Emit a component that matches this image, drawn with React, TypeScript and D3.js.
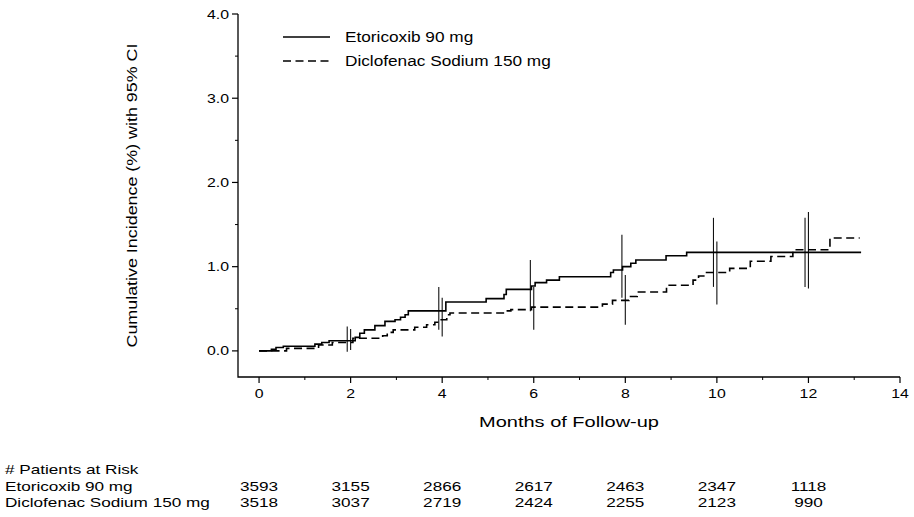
import React from "react";
import * as d3 from "d3";

// ---------- data ----------
const etoTimes = [0, 0.27, 0.37, 0.53, 1.22, 1.37, 1.53, 2.1, 2.2, 2.3, 2.53, 2.75, 2.97, 3.09, 3.19, 3.26, 4.08, 4.96, 5.35, 5.4, 5.95, 6.03, 6.28, 6.56, 7.68, 7.74, 7.94, 8.12, 8.23, 8.89, 9.34, 13.15];
const etoValues = [0, 0.02, 0.04, 0.055, 0.08, 0.1, 0.12, 0.16, 0.21, 0.25, 0.3, 0.35, 0.37, 0.4, 0.43, 0.475, 0.58, 0.62, 0.67, 0.73, 0.77, 0.81, 0.84, 0.88, 0.93, 0.96, 1.0, 1.04, 1.08, 1.13, 1.17, 1.17];

const dicTimes = [0, 0.6, 1.3, 1.6, 2.05, 2.7, 2.8, 2.93, 3.4, 3.66, 3.84, 3.95, 4.1, 4.17, 5.4, 5.5, 5.95, 7.5, 7.72, 8.08, 8.26, 8.9, 9.48, 9.6, 9.75, 10.28, 10.73, 11.18, 11.66, 12.47, 13.12];
const dicValues = [0, 0.03, 0.07, 0.1, 0.15, 0.18, 0.22, 0.25, 0.28, 0.31, 0.34, 0.37, 0.43, 0.45, 0.475, 0.49, 0.52, 0.555, 0.6, 0.645, 0.7, 0.78, 0.84, 0.89, 0.93, 0.98, 1.065, 1.12, 1.2, 1.34, 1.34];

const ciMonths = [2, 4, 6, 8, 10, 12];
const etoLower = [-0.01, 0.25, 0.47, 0.63, 0.76, 0.76];
const etoUpper = [0.29, 0.76, 1.08, 1.38, 1.58, 1.58];
const dicLower = [0.01, 0.17, 0.25, 0.31, 0.55, 0.74];
const dicUpper = [0.26, 0.63, 0.76, 0.9, 1.3, 1.65];

const xTicks = [0, 2, 4, 6, 8, 10, 12, 14];
const xMinorTicks = [1, 3, 5, 7, 9, 11, 13];
const yTicks = [0, 1, 2, 3, 4];
const yMinorTicks = [0.5, 1.5, 2.5, 3.5];

const seriesNames = ["Etoricoxib 90 mg", "Diclofenac Sodium 150 mg"];
const riskMonths = [0, 2, 4, 6, 8, 10, 12];
const etoRisk = [3593, 3155, 2866, 2617, 2463, 2347, 1118];
const dicRisk = [3518, 3037, 2719, 2424, 2255, 2123, 990];

// ---------- layout ----------
const W = 914, H = 517;
const FONT = "'Liberation Sans', Arial, Helvetica, sans-serif";

const x = d3.scaleLinear().domain([-0.46, 14]).range([238, 900]);
const y = d3.scaleLinear().domain([-0.31, 4]).range([377, 14]);

const stepLine = d3
  .line<[number, number]>()
  .x((d) => x(d[0]))
  .y((d) => y(d[1]))
  .curve(d3.curveStepAfter);

function T(props: {
  x: number; y: number; size: number; sx?: number; anchor?: string; children: React.ReactNode;
}) {
  const sx = props.sx ?? 1.25;
  return (
    <text
      transform={`translate(${props.x},${props.y}) scale(${sx},1)`}
      fontSize={props.size}
      fontFamily={FONT}
      textAnchor={props.anchor ?? "start"}
      fill="#000"
    >
      {props.children}
    </text>
  );
}

export default function App() {
  const etoPts = etoTimes.map((t, i) => [t, etoValues[i]] as [number, number]);
  const dicPts = dicTimes.map((t, i) => [t, dicValues[i]] as [number, number]);
  const axisY = y.range()[0];
  const axisX = x.range()[0];

  return (
    <svg width={W} height={H} style={{ position: "absolute", left: 0, top: 0, background: "#fff" }}>
      {/* axes */}
      <path d={`M${axisX},${y(4)}V${axisY}H${x(14)}`} fill="none" stroke="#000" strokeWidth={1.3} />
      {xTicks.map((t) => (
        <line key={"xt" + t} x1={x(t)} x2={x(t)} y1={axisY} y2={axisY + 6} stroke="#000" strokeWidth={1.2} />
      ))}
      {xMinorTicks.map((t) => (
        <line key={"xm" + t} x1={x(t)} x2={x(t)} y1={axisY} y2={axisY + 3} stroke="#000" strokeWidth={1} />
      ))}
      {yTicks.map((t) => (
        <line key={"yt" + t} x1={axisX - 6} x2={axisX} y1={y(t)} y2={y(t)} stroke="#000" strokeWidth={1.2} />
      ))}
      {yMinorTicks.map((t) => (
        <line key={"ym" + t} x1={axisX - 3} x2={axisX} y1={y(t)} y2={y(t)} stroke="#000" strokeWidth={1} />
      ))}
      {xTicks.map((t) => (
        <T key={"xl" + t} x={x(t)} y={axisY + 21} size={13} sx={1.22} anchor="middle">{t}</T>
      ))}
      {yTicks.map((t) => (
        <T key={"yl" + t} x={axisX - 9} y={y(t) + 4.6} size={13} sx={1.22} anchor="end">{t.toFixed(1)}</T>
      ))}
      <T x={(x(14) + axisX) / 2} y={427} size={15.5} sx={1.29} anchor="middle">Months of Follow-up</T>
      <text
        transform={`translate(137,${(y(4) + axisY) / 2}) rotate(-90)`}
        fontSize={14.5}
        fontFamily={FONT}
        textAnchor="middle"
        textLength={304}
        lengthAdjust="spacingAndGlyphs"
      >
        Cumulative Incidence (%) with 95% CI
      </text>

      {/* confidence intervals */}
      {ciMonths.map((m, i) => (
        <g key={"ci" + m}>
          <line x1={x(m) - 3.4} x2={x(m) - 3.4} y1={y(etoLower[i])} y2={y(etoUpper[i])} stroke="#111" strokeWidth={1.1} />
          <line x1={x(m)} x2={x(m)} y1={y(dicLower[i])} y2={y(dicUpper[i])} stroke="#111" strokeWidth={1.1} />
        </g>
      ))}

      {/* curves */}
      <path d={stepLine(dicPts) ?? ""} fill="none" stroke="#000" strokeWidth={1.6} strokeDasharray="8,4.5" />
      <path d={stepLine(etoPts) ?? ""} fill="none" stroke="#000" strokeWidth={1.6} />

      {/* legend */}
      <line x1={283} x2={330} y1={37} y2={37} stroke="#000" strokeWidth={1.6} />
      <T x={345} y={42} size={14} sx={1.23}>{seriesNames[0]}</T>
      <line x1={283} x2={330} y1={61} y2={61} stroke="#000" strokeWidth={1.6} strokeDasharray="8,4.5" />
      <T x={345} y={66} size={14} sx={1.23}>{seriesNames[1]}</T>

      {/* risk table */}
      <T x={5} y={474} size={13.5} sx={1.27}># Patients at Risk</T>
      <T x={5} y={491} size={13.5} sx={1.27}>{seriesNames[0]}</T>
      <T x={5} y={507} size={13.5} sx={1.27}>{seriesNames[1]}</T>
      {riskMonths.map((m, i) => (
        <g key={"r" + m}>
          <T x={x(m)} y={491} size={13.5} sx={1.27} anchor="middle">{etoRisk[i]}</T>
          <T x={x(m)} y={507} size={13.5} sx={1.27} anchor="middle">{dicRisk[i]}</T>
        </g>
      ))}
    </svg>
  );
}
